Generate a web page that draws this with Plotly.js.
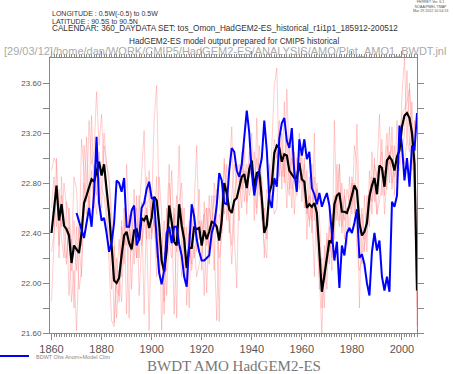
<!DOCTYPE html>
<html><head><meta charset="utf-8">
<script src="https://cdn.plot.ly/plotly-3.0.1.min.js"></script>
<style>html,body{margin:0;padding:0;background:#fff;overflow:hidden}#c{width:453px;height:374px}</style>
</head><body><div id="c"></div>
<script>
// ---- data (annual values, years 1860..2006) ----
const modelYears = [];
for (let y = 1860; y <= 2006; y++) modelYears.push(y);
const obsYears = [];
for (let y = 1870; y <= 2006; y++) obsYears.push(y);

// black: model ensemble mean
const ensMean = [
22.40,22.62,22.78,22.50,22.63,22.46,22.43,22.38,22.16,22.30,
22.27,22.24,22.40,22.64,22.70,22.76,22.83,22.81,22.90,22.97,
22.86,22.95,22.75,22.56,22.30,22.02,22.00,22.04,22.22,22.38,
22.41,22.32,22.27,22.42,22.43,22.34,22.52,22.50,22.54,22.44,
22.52,22.69,22.66,22.47,22.18,22.09,22.26,22.62,22.49,22.33,
22.30,22.63,22.46,22.35,22.12,22.28,22.28,22.45,22.43,22.44,
22.30,22.42,22.35,22.41,22.49,22.48,22.45,22.34,22.50,22.80,
22.72,22.59,22.56,22.66,22.68,22.78,22.85,22.87,22.76,22.91,
22.98,22.76,22.88,22.89,22.68,22.40,22.46,22.72,22.79,23.04,
23.10,23.08,22.97,23.03,23.02,22.90,22.87,22.84,22.84,22.96,
22.83,22.81,22.60,22.63,22.61,22.64,22.56,22.22,21.93,22.06,
22.21,22.34,22.32,22.63,22.70,22.72,22.57,22.57,22.56,22.62,
22.70,22.78,22.74,22.48,22.38,22.41,22.48,22.69,22.78,22.84,
22.71,22.94,22.92,22.77,22.98,23.01,22.98,22.90,23.01,23.06,
23.25,23.34,23.36,23.32,23.20,22.95,21.94];

// blue: BDWT obs anomaly + model climatology
const obsAnom = [
22.56,22.49,22.42,22.36,22.48,22.60,22.45,22.72,23.17,22.64,
22.50,22.52,22.40,22.25,22.32,22.48,22.82,22.80,22.73,22.84,
22.45,22.45,22.58,22.62,22.30,22.35,22.60,22.64,22.75,22.81,
22.68,22.67,22.35,22.08,21.99,22.10,22.40,22.45,22.32,22.45,
22.45,22.31,22.22,22.05,21.97,22.28,22.63,22.53,22.35,22.25,
22.18,22.18,22.20,22.22,22.40,22.47,22.62,22.88,22.82,22.64,
22.63,22.90,23.08,23.05,22.90,22.85,22.95,23.20,23.38,23.20,
22.88,22.70,22.83,22.90,23.00,23.30,23.06,22.67,22.60,22.84,
22.77,23.16,23.28,23.32,23.14,23.08,23.24,22.88,22.73,23.15,
23.02,23.15,22.99,23.05,22.76,22.71,22.63,22.72,22.61,22.67,
22.72,22.62,22.40,22.18,22.33,21.96,22.30,22.22,22.40,22.44,
22.40,22.48,22.59,22.20,22.23,22.15,22.00,21.90,22.25,22.40,
22.26,22.34,22.05,21.94,22.05,21.93,22.65,22.61,22.70,23.26,
23.10,22.82,23.00,22.77,23.10,23.06,23.36];

// pink: individual model members
const member1 = [
22.90,23.00,22.95,22.30,22.70,22.55,22.20,22.45,21.85,22.10,
21.62,22.20,23.15,22.90,22.65,23.30,22.95,23.05,23.53,23.10,
23.35,22.90,22.60,22.15,21.70,21.65,22.00,22.35,22.05,22.60,
21.75,22.50,22.30,22.75,22.20,22.55,22.85,23.22,22.40,21.62,
22.60,23.30,23.58,22.50,21.62,22.25,22.10,22.80,22.55,21.75,
22.45,23.10,22.25,22.60,21.82,22.40,22.15,22.70,23.10,22.35,
22.50,21.90,22.60,22.15,22.70,22.30,21.70,22.55,22.45,23.00,
22.50,22.90,23.25,22.40,21.96,22.85,22.60,23.10,22.55,23.00,
23.20,22.50,23.32,22.70,22.85,22.20,22.55,22.60,23.05,23.58,
23.72,22.85,23.20,22.80,23.55,22.95,22.60,23.05,22.70,23.20,
22.65,23.00,22.35,22.85,22.40,23.20,22.30,22.05,21.60,22.30,
21.95,22.55,22.10,23.30,22.50,22.95,22.40,22.75,22.30,22.85,
22.55,23.10,22.95,21.80,22.55,22.25,22.70,22.45,23.05,22.65,
22.90,23.35,22.70,22.95,23.20,22.80,23.25,22.70,23.30,22.95,
23.50,23.80,23.15,23.60,22.90,23.30,21.65];
const member2 = [
22.25,22.40,22.70,22.65,22.45,22.80,22.60,21.90,22.35,21.80,
22.45,21.95,22.10,22.55,23.17,22.60,23.34,22.70,22.55,22.85,
22.60,23.10,22.95,22.80,22.45,21.68,22.20,21.85,22.50,22.15,
22.55,21.72,22.60,22.15,22.70,21.90,22.30,22.45,22.85,22.75,
22.40,22.50,22.20,22.85,22.55,21.85,22.60,22.35,22.20,22.60,
21.72,22.65,22.80,22.10,22.45,21.80,22.55,22.20,22.40,22.75,
22.10,22.65,22.30,22.70,22.35,22.80,22.60,21.69,22.80,22.55,
22.95,22.40,22.70,22.95,22.80,22.50,23.05,22.65,22.90,22.70,
22.80,23.05,22.60,22.95,22.55,22.30,22.20,22.95,22.60,22.90,
23.05,23.30,22.75,23.45,22.80,22.70,23.10,22.55,23.00,22.75,
23.05,22.60,22.90,22.45,22.95,22.50,22.75,21.95,22.20,21.80,
22.40,22.15,22.55,22.35,22.95,22.50,22.80,22.35,22.60,22.40,
22.85,22.55,23.27,22.60,22.15,22.70,22.25,22.90,22.55,23.00,
22.55,22.80,23.15,22.55,22.85,23.25,22.75,23.10,22.80,23.25,
23.05,23.20,23.70,23.10,23.45,22.75,22.10];
const member3 = [
22.60,22.85,22.45,22.75,22.35,22.20,22.65,22.55,22.10,22.50,
22.10,22.45,22.30,22.80,22.55,22.70,22.45,22.95,22.70,23.05,
22.75,22.70,22.50,22.40,21.95,22.30,21.72,22.10,21.85,22.40,
22.30,22.55,21.95,22.50,22.60,22.20,22.65,21.75,22.60,22.35,
22.70,22.45,22.85,22.10,22.30,21.75,22.45,22.95,22.30,22.55,
22.25,22.40,22.60,22.25,22.05,22.50,22.30,22.60,22.25,22.50,
22.40,22.55,21.92,22.60,22.45,22.70,22.45,22.20,22.35,22.95,
22.75,22.55,22.30,22.70,22.85,22.95,22.75,22.90,22.65,23.05,
22.90,22.75,23.00,22.80,22.50,22.60,22.35,22.70,22.85,23.15,
23.00,23.10,23.05,22.85,23.15,22.75,23.00,22.90,22.75,23.05,
22.80,22.95,22.55,22.70,22.50,22.85,22.40,22.30,21.80,22.15,
22.35,22.25,22.45,22.70,22.60,22.45,22.65,22.50,22.75,22.65,
22.80,22.65,22.55,22.40,22.60,22.35,22.55,22.75,22.65,22.95,
22.85,22.95,23.05,22.70,23.10,22.95,23.10,22.85,22.95,23.15,
23.35,23.40,23.45,23.55,23.25,23.10,22.30];
const member4 = [
21.85,22.35,23.00,22.20,22.85,22.30,22.15,22.60,22.25,22.85,
22.75,22.30,22.05,23.10,22.85,22.55,22.90,22.60,22.85,22.95,
22.90,23.20,22.95,22.85,22.55,22.35,21.95,21.90,22.45,22.30,
22.95,22.45,22.25,22.35,22.20,22.70,22.30,22.55,22.35,22.90,
22.35,22.55,22.05,22.40,22.25,22.50,21.90,22.45,22.90,22.35,
22.70,22.35,22.05,22.45,22.15,22.40,22.10,22.30,22.05,22.15,
22.25,22.55,22.60,22.25,22.45,22.10,22.75,22.70,22.40,22.70,
22.65,22.50,22.15,22.55,22.95,22.80,23.00,22.80,22.95,22.85,
22.95,22.75,22.55,23.10,22.80,22.50,22.75,22.65,22.70,22.55,
22.60,23.05,22.85,23.00,22.60,23.15,22.75,22.85,22.90,22.80,
22.85,22.70,22.60,22.50,22.60,22.05,22.80,22.55,22.10,22.00,
22.15,22.45,22.20,22.45,22.75,22.95,22.45,22.70,22.55,22.60,
22.60,22.80,22.25,22.10,22.20,22.30,22.40,22.65,22.85,22.75,
22.55,22.65,22.80,22.90,22.75,23.05,22.80,22.95,23.00,22.90,
23.10,22.95,23.15,23.05,23.20,22.65,21.80];

const xTickVals = [1860,1880,1900,1920,1940,1960,1980,2000];
const yTickVals = [21.6,21.8,22.0,22.2,22.4,22.6,22.8,23.0,23.2,23.4,23.6];
const yTickText = ['21.60','','22.00','','22.40','','22.80','','23.20','','23.60'];

// ---- layout geometry (pixels) ----
const W = 453, H = 374, L = 50, R = 36, T = 58, B = 41;
const PW = W - L - R, PH = H - T - B;
const px = x => (x - L) / PW;
const py = y => 1 - (y - T) / PH;

const sans = 'Liberation Sans, Arial, sans-serif';
function txt(text, x, y, size, color, anchor, family) {
  return {text: text, xref: 'paper', yref: 'paper', x: px(x), y: py(y),
    xanchor: anchor || 'left', yanchor: 'middle', showarrow: false,
    font: {family: family || sans, size: size, color: color}};
}

const pink = 'rgba(255,110,110,0.38)';
const members = [member1, member2, member3, member4];
const traces = members.map(m => ({x: modelYears, y: m, type: 'scatter', mode: 'lines',
  line: {color: pink, width: 0.9}, hoverinfo: 'skip', showlegend: false}));
traces.push({x: modelYears, y: ensMean, type: 'scatter', mode: 'lines',
  line: {color: '#000000', width: 2.2}, showlegend: false});
traces.push({x: obsYears, y: obsAnom, type: 'scatter', mode: 'lines',
  line: {color: '#0000ff', width: 2}, showlegend: false});

const axisGray = '#888888';
const stamp = {text: 'FERRET Ver. 6.1<br>NOAA/PMEL TMAP<br>Mar 29 2012 10:54:13',
  xref: 'paper', yref: 'paper', x: px(430), y: py(6.5), xanchor: 'center', yanchor: 'middle',
  align: 'center', showarrow: false, font: {family: sans, size: 3.6, color: '#555555'}};

const layout = {
  width: W, height: H,
  margin: {l: L, r: R, t: T, b: B, pad: 0},
  paper_bgcolor: '#ffffff', plot_bgcolor: '#ffffff',
  showlegend: false,
  xaxis: {range: [1859.4, 2006], tickvals: xTickVals, ticktext: xTickVals.map(String),
    ticks: 'outside', ticklen: 6, tickcolor: axisGray, tickwidth: 1,
    minor: {dtick: 1, tick0: 1860, ticks: 'outside', ticklen: 3, tickcolor: axisGray, tickwidth: 1, showgrid: false},
    showline: true, linecolor: axisGray, linewidth: 1, mirror: 'ticks',
    showgrid: false, zeroline: false,
    tickfont: {family: sans, size: 11, color: '#555555'}},
  yaxis: {range: [21.6, 23.8], tickvals: yTickVals, ticktext: yTickText,
    ticks: 'outside', ticklen: 6, tickcolor: axisGray, tickwidth: 1,
    showline: true, linecolor: axisGray, linewidth: 1, mirror: 'ticks',
    showgrid: false, zeroline: false,
    tickfont: {family: sans, size: 8, color: '#555555'}},
  annotations: [
    txt('LONGITUDE : 0.5W(-0.5) to 0.5W', 50, 14, 7, '#333333'),
    txt('LATITUDE : 90.5S to 90.5N', 50, 21, 7, '#333333'),
    txt('CALENDAR: 360_DAYDATA SET: tos_Omon_HadGEM2-ES_historical_r1i1p1_185912-200512', 50, 28.5, 8.2, '#333333'),
    txt('HadGEM2-ES model output prepared for CMIP5 historical', 234, 41, 8.2, '#333333', 'center'),
    txt('[29/03/12]/home/dan/WORK/CMIP5/HadGEM2-ES/ANALYSIS/AMO/Plot_AMO1_BWDT.jnl', 2, 51.5, 11, '#aaaaaa'),
    stamp,
    txt('BDWT Obs Anom+Model Clim', 34, 356.5, 5.5, '#888888'),
    txt('BWDT AMO HadGEM2-ES', 234, 365.5, 15, '#777777', 'center', 'Liberation Serif, Times New Roman, serif')
  ],
  shapes: [
    {type: 'line', xref: 'paper', yref: 'paper', x0: px(0), x1: px(29), y0: py(356), y1: py(356),
      line: {color: '#0000ff', width: 2}}
  ]
};

Plotly.newPlot('c', traces, layout, {staticPlot: true, displayModeBar: false});
</script>
</body></html>
